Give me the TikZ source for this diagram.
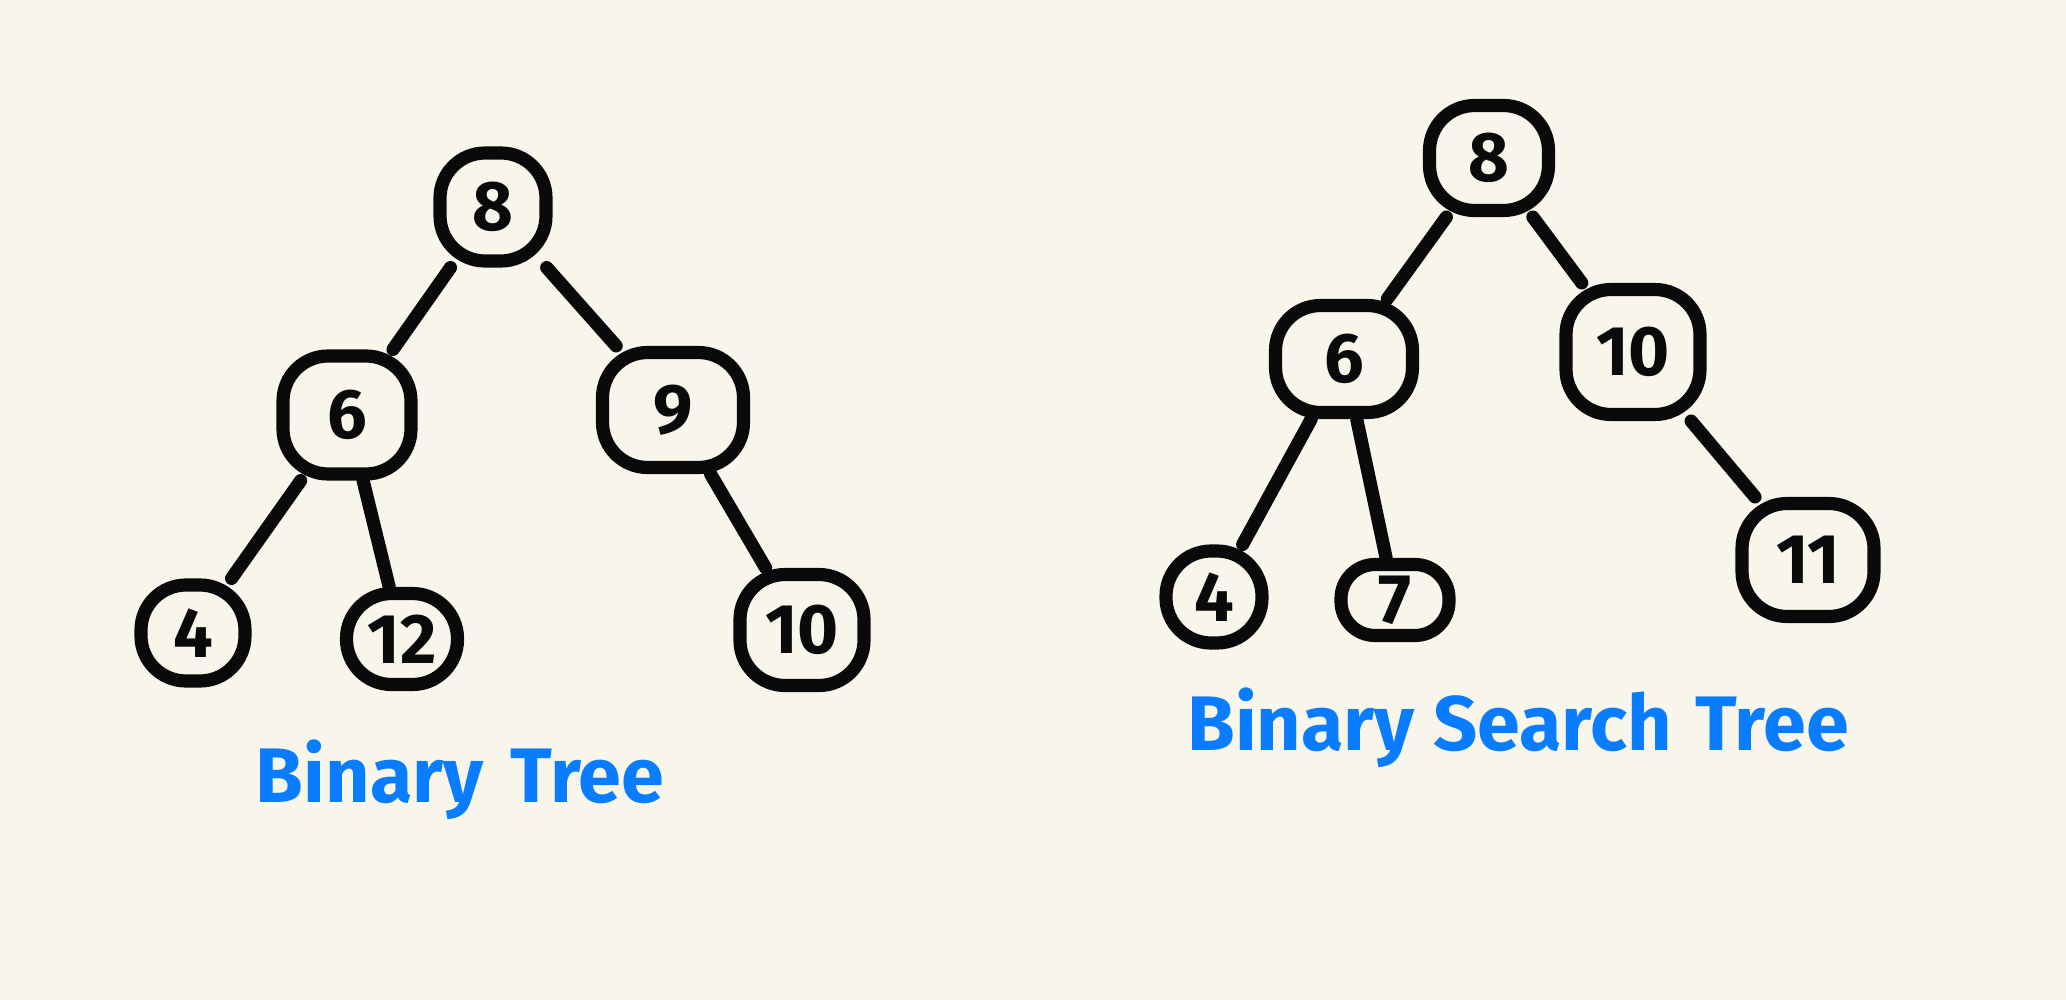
\documentclass[tikz,border=0pt]{standalone}
\usepackage{fontspec}
\setmainfont{Fira Sans}
\definecolor{bg}{HTML}{F8F6EA}
\definecolor{ink}{HTML}{0A0A0A}
\definecolor{blueink}{HTML}{0A7CFF}
\begin{document}
\begin{tikzpicture}[x=0.02cm,y=-0.02cm,
  blob/.style={draw=ink,line width=7.5pt,rounded corners=0.9cm,inner sep=0pt,
    font=\fontsize{40}{40}\selectfont\bfseries,text=ink},
  edge/.style={draw=ink,line width=7.5pt,line cap=round},
  title/.style={text=blueink,font=\fontsize{44}{44}\selectfont\bfseries,inner sep=0pt}]
\fill[bg] (0,0) rectangle (2066,1000);
\useasboundingbox (0,0) rectangle (2066,1000);
% left tree
\node[blob,minimum width=2.12cm,minimum height=2.16cm] (L8) at (493,207) {8};
\node[blob,minimum width=2.56cm,minimum height=2.36cm] (L6) at (347,415) {6};
\node[blob,minimum width=2.82cm,minimum height=2.30cm] (L9) at (673,410) {9};
\node[blob,minimum width=2.08cm,minimum height=1.92cm] (L4) at (193,633) {4};
\node[blob,minimum width=2.22cm,minimum height=1.82cm] (L12) at (402,639) {12};
\node[blob,minimum width=2.48cm,minimum height=2.22cm] (L10) at (802,630) {10};
\draw[edge] (L8) -- (L6);
\draw[edge] (L8) -- (L9);
\draw[edge] (L6) -- (L4);
\draw[edge] (L6) -- (L12);
\draw[edge] (L9) -- (L10);
% right tree
\node[blob,minimum width=2.38cm,minimum height=2.10cm] (R8) at (1489,158) {8};
\node[blob,minimum width=2.74cm,minimum height=2.14cm] (R6) at (1344,359) {6};
\node[blob,minimum width=2.68cm,minimum height=2.50cm] (R10) at (1633,352) {10};
\node[blob,minimum width=1.92cm,minimum height=1.84cm] (R4) at (1214,597) {4};
\node[blob,minimum width=2.16cm,minimum height=1.42cm,rounded corners=0.68cm] (R7) at (1395,600) {7};
\node[blob,minimum width=2.64cm,minimum height=2.26cm] (R11) at (1808,560) {11};
\draw[edge] (R8) -- (R6);
\draw[edge] (R8) -- (R10);
\draw[edge] (R6) -- (R4);
\draw[edge] (R6) -- (R7);
\draw[edge] (R10) -- (R11);
% titles
\node[title] (t1) at (460,780) {Binary\hspace{0.35em}Tree};
\node[title] (t2) at (1518,728) {Binary Search\hspace{0.3em}Tree};
\end{tikzpicture}
\end{document}
